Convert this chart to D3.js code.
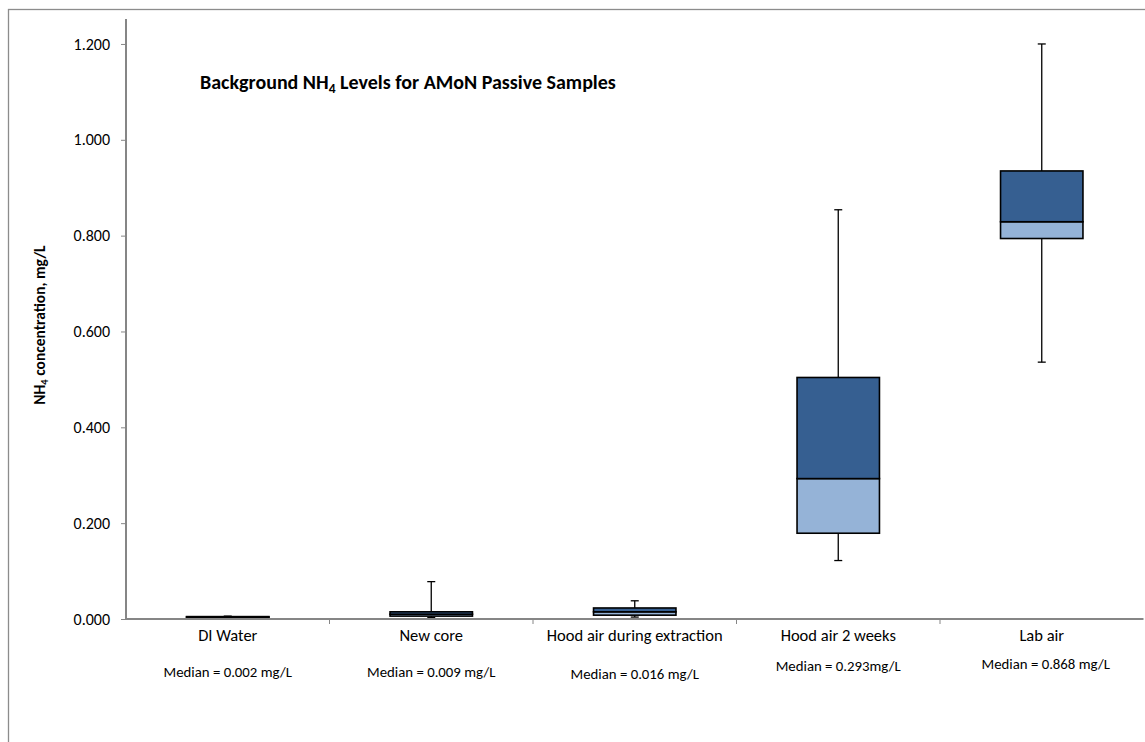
<!DOCTYPE html>
<html>
<head>
<meta charset="utf-8">
<script src="https://cdn.jsdelivr.net/npm/d3@7"></script>
<style>
  html, body { margin: 0; padding: 0; background: #fff; }
  svg { display: block; font-family: Carlito, Lato, "Open Sans", sans-serif; }
</style>
</head>
<body>
<svg id="chart" width="1145" height="742"></svg>
<script>
// ---- data ----
const categories = ["DI Water", "New core", "Hood air during extraction", "Hood air 2 weeks", "Lab air"];
const minVals    = [0.002, 0.003, 0.004, 0.122, 0.536];
const q1Vals     = [0.003, 0.006, 0.008, 0.179, 0.794];
const medianVals = [0.004, 0.010, 0.015, 0.293, 0.829];
const q3Vals     = [0.005, 0.015, 0.023, 0.504, 0.935];
const maxVals    = [0.006, 0.078, 0.038, 0.854, 1.200];
const medianLabels = ["Median = 0.002 mg/L", "Median = 0.009 mg/L", "Median = 0.016 mg/L", "Median = 0.293mg/L", "Median = 0.868 mg/L"];
const medianLabelOffsets = [34, 34, 36, 28, 26];
const yTicks = [0, 0.2, 0.4, 0.6, 0.8, 1.0, 1.2];

(function () {
const data = categories.map((c, i) => ({
  cat: c, min: minVals[i], q1: q1Vals[i], med: medianVals[i], q3: q3Vals[i], max: maxVals[i],
  label: medianLabels[i], off: medianLabelOffsets[i]
}));

const svg = d3.select("#chart");
const pLeft = 126, pRight = 1143.5, pTop = 20, pBottom = 619;

// outer frame (cropped at right/bottom)
svg.append("rect").attr("x", 8.5).attr("y", 9.5).attr("width", 1200).attr("height", 800)
  .attr("fill", "none").attr("stroke", "#8c8c8c").attr("stroke-width", 1.3);

const x = d3.scaleBand().domain(categories).range([pLeft, pRight]).paddingInner(0).paddingOuter(0);
const y = d3.scaleLinear().domain([0, 1.25]).range([pBottom, pTop]);
const boxW = x.bandwidth() * 0.405;
const capW = 8;
const axisColor = "#868686";

// Y axis
const yAxis = d3.axisLeft(y).tickValues(yTicks).tickFormat(d3.format(".3f")).tickSize(5).tickPadding(11);
const gy = svg.append("g").attr("transform", `translate(${pLeft},0)`).call(yAxis);
gy.select(".domain").attr("stroke", axisColor).attr("stroke-width", 2)
  .attr("d", `M0,${pTop - 1}V${pBottom}`);
gy.selectAll(".tick line").attr("stroke", axisColor).attr("stroke-width", 1);
gy.selectAll(".tick text").attr("font-size", 16).attr("fill", "#000")
  .attr("font-family", "Carlito, Lato, sans-serif");

// boxes
const g = svg.append("g");
data.forEach(d => {
  const cx = x(d.cat) + x.bandwidth() / 2;
  g.append("line").attr("x1", cx).attr("x2", cx).attr("y1", y(d.q3)).attr("y2", y(d.max))
    .attr("stroke", "#000").attr("stroke-width", 1.3);
  g.append("line").attr("x1", cx - capW / 2).attr("x2", cx + capW / 2).attr("y1", y(d.max)).attr("y2", y(d.max))
    .attr("stroke", "#000").attr("stroke-width", 1.3);
  g.append("line").attr("x1", cx).attr("x2", cx).attr("y1", y(d.q1)).attr("y2", y(d.min))
    .attr("stroke", "#000").attr("stroke-width", 1.3);
  g.append("line").attr("x1", cx - capW / 2).attr("x2", cx + capW / 2).attr("y1", y(d.min)).attr("y2", y(d.min))
    .attr("stroke", "#000").attr("stroke-width", 1.3);
  g.append("rect").attr("x", cx - boxW / 2).attr("width", boxW)
    .attr("y", y(d.med)).attr("height", Math.max(0, y(d.q1) - y(d.med)))
    .attr("fill", "#95b3d7").attr("stroke", "#000").attr("stroke-width", 1.6);
  g.append("rect").attr("x", cx - boxW / 2).attr("width", boxW)
    .attr("y", y(d.q3)).attr("height", Math.max(0, y(d.med) - y(d.q3)))
    .attr("fill", "#365f91").attr("stroke", "#000").attr("stroke-width", 1.6);
});

// X axis
const xAxis = d3.axisBottom(x).tickSize(0).tickPadding(10.5);
const gx = svg.append("g").attr("transform", `translate(0,${pBottom})`).call(xAxis);
gx.select(".domain").attr("stroke", axisColor).attr("stroke-width", 2).attr("d", `M${pLeft},0H${pRight}`);
gx.selectAll(".tick text").attr("font-size", 16.5).attr("fill", "#000")
  .attr("font-family", "Carlito, Lato, sans-serif");
gx.selectAll(".bound").data(categories.slice(1)).enter().append("line")
  .attr("x1", d => x(d)).attr("x2", d => x(d)).attr("y1", 0).attr("y2", 5)
  .attr("stroke", axisColor).attr("stroke-width", 1);

// median labels
svg.append("g").selectAll("text").data(data).enter().append("text")
  .attr("x", d => x(d.cat) + x.bandwidth() / 2 + (d.cat === "Lab air" ? 4 : 0))
  .attr("y", d => pBottom + 24 + d.off)
  .attr("text-anchor", "middle").attr("font-size", 14.8).attr("fill", "#000")
  .text(d => d.label);

// title
const title = svg.append("text").attr("x", 200).attr("y", 89)
  .attr("font-size", 20).attr("font-weight", "bold").attr("fill", "#000");
title.append("tspan").text("Background NH");
title.append("tspan").attr("font-size", 13.5).attr("dy", 3.5).text("4");
title.append("tspan").attr("dy", -3.5).text(" Levels for AMoN Passive Samples");

// y label
const yl = svg.append("text").attr("transform", "translate(45,325) rotate(-90)")
  .attr("text-anchor", "middle").attr("font-size", 15.5).attr("font-weight", "bold").attr("fill", "#000");
yl.append("tspan").text("NH");
yl.append("tspan").attr("font-size", 10.5).attr("dy", 3).text("4");
yl.append("tspan").attr("dy", -3).text(" concentration, mg/L");
})();
</script>
</body>
</html>
